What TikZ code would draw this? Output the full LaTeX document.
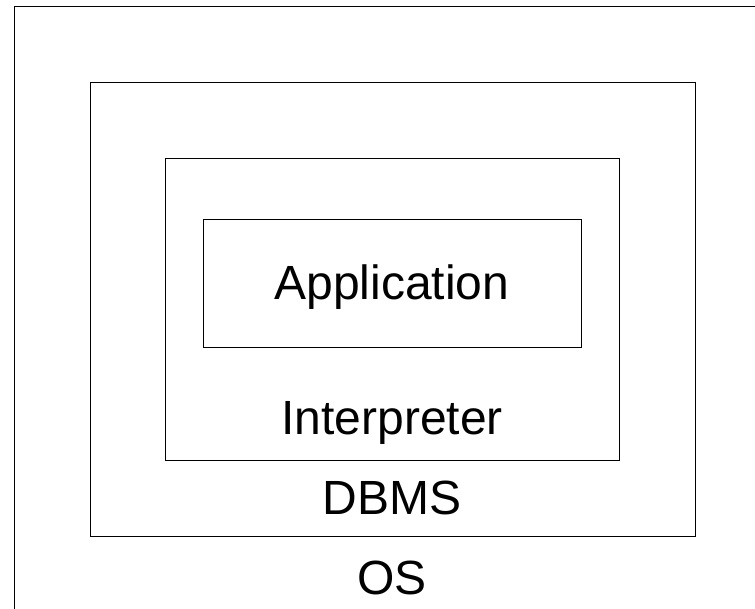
\documentclass[tikz,border=0pt]{standalone}
\usepackage{fontspec}
\setmainfont{Liberation Sans}
\begin{document}
\begin{tikzpicture}
[x=1pt,y=-1pt,
  layerbox/.style={shape=rectangle,draw,line width=1pt,inner sep=0pt},%
  layerlabel/.style={anchor=base,inner sep=0pt,font=\fontsize{48}{52}\selectfont}]
\useasboundingbox (0,0) rectangle (755,608);
%% nested layers
\foreach \nodename/\x/\y/\w/\h in {os/397/318/766/624,
  dbms/392.5/309/605/454, interp/392/309/454/302, app/392/283/378/128} {
  \node (\nodename) at (\x,\y) [layerbox,minimum width=\w pt,minimum height=\h pt] {};
}
%% labels
\foreach \nodename/\y/\text in {applabel/299/Application,
  interplabel/434/Interpreter, dbmslabel/514/DBMS, oslabel/594/OS} {
  \node (\nodename) at (392,\y) [layerlabel] {\text};
}
\end{tikzpicture}
\end{document}
